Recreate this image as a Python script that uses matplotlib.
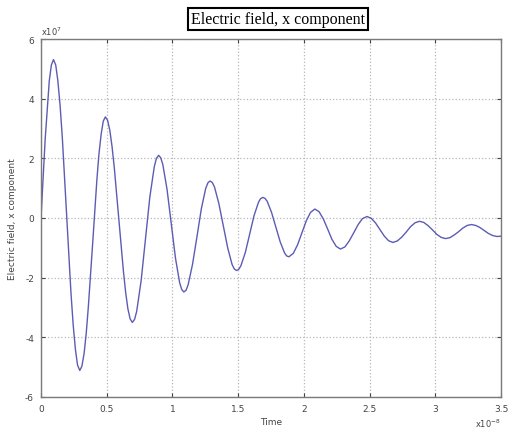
import matplotlib.pyplot as plt

# time in units of 1e-8 s, field in units of 1e7
time = [
    0.000, 0.032, 0.063, 0.079, 0.095,
    0.112, 0.128, 0.145, 0.162, 0.195, 0.228, 0.245, 0.262, 0.278, 0.295,
    0.311, 0.328, 0.344, 0.360, 0.393, 0.425, 0.441, 0.458, 0.474, 0.490,
    0.507, 0.524, 0.541, 0.558, 0.593, 0.627, 0.644, 0.661, 0.678, 0.695,
    0.712, 0.728, 0.762, 0.795, 0.828, 0.862, 0.878, 0.895,
    0.911, 0.927, 0.959, 0.991, 1.023, 1.055, 1.071, 1.087,
    1.104, 1.120, 1.153, 1.187, 1.220, 1.253, 1.270, 1.286,
    1.303, 1.320, 1.353, 1.387, 1.421, 1.454, 1.471, 1.488,
    1.505, 1.521, 1.555, 1.588, 1.621, 1.655, 1.671, 1.688,
    1.704, 1.721, 1.754, 1.787, 1.820, 1.853, 1.869, 1.886,
    1.919, 1.952, 1.985, 2.018, 2.051, 2.084,
    2.116, 2.149, 2.181, 2.213, 2.246, 2.278,
    2.312, 2.345, 2.379, 2.413, 2.446, 2.480,
    2.513, 2.546, 2.579, 2.611, 2.644, 2.677,
    2.711, 2.745, 2.779, 2.812, 2.846, 2.880,
    2.913, 2.946, 2.979, 3.012, 3.045, 3.078,
    3.111, 3.144, 3.177, 3.209, 3.242, 3.275,
    3.308, 3.340, 3.373, 3.405, 3.438, 3.470, 3.500,
]
efield_x = [
    0.00, 2.66, 4.60, 5.13, 5.31,
    5.13, 4.61, 3.79, 2.71, 0.10, -2.51, -3.59, -4.41, -4.93, -5.11,
    -4.97, -4.54, -3.87, -2.99, -0.86, 1.27, 2.15, 2.82, 3.25, 3.39,
    3.27, 2.93, 2.38, 1.67, -0.06, -1.78, -2.49, -3.04, -3.38, -3.50,
    -3.40, -3.13, -2.10, -0.70, 0.70, 1.72, 2.00, 2.10,
    2.02, 1.79, 0.96, -0.19, -1.34, -2.17, -2.40, -2.48,
    -2.42, -2.23, -1.55, -0.62, 0.31, 0.99, 1.18, 1.24,
    1.19, 1.04, 0.49, -0.26, -1.01, -1.56, -1.71, -1.76,
    -1.72, -1.60, -1.15, -0.54, 0.08, 0.53, 0.65, 0.69,
    0.66, 0.56, 0.19, -0.31, -0.80, -1.17, -1.27, -1.30,
    -1.19, -0.90, -0.50, -0.10, 0.19, 0.30,
    0.21, -0.04, -0.37, -0.71, -0.95, -1.04,
    -0.97, -0.77, -0.50, -0.22, -0.02, 0.05,
    -0.01, -0.17, -0.39, -0.60, -0.76, -0.82,
    -0.77, -0.64, -0.47, -0.29, -0.16, -0.11,
    -0.15, -0.26, -0.40, -0.55, -0.65, -0.69,
    -0.66, -0.57, -0.46, -0.34, -0.25, -0.22,
    -0.25, -0.32, -0.42, -0.52, -0.59, -0.62, -0.61,
]

x_ticks = [0, 0.5, 1, 1.5, 2, 2.5, 3, 3.5]
x_labels = ['0', '0.5', '1', '1.5', '2', '2.5', '3', '3.5']
y_ticks = [-6, -4, -2, 0, 2, 4, 6]
y_labels = ['-6', '-4', '-2', '0', '2', '4', '6']

fig = plt.figure(figsize=(5.08, 4.31), dpi=100)
ax = fig.add_axes([41 / 508, 33 / 431, 460 / 508, 358 / 431])

ax.plot(time, efield_x, color='#5c5cb4', linewidth=1.0,
        solid_joinstyle='round')

ax.set_xlim(0, 3.5)
ax.set_ylim(-6, 6)
ax.set_xticks(x_ticks)
ax.set_xticklabels(x_labels)
ax.set_yticks(y_ticks)
ax.set_yticklabels(y_labels)
ax.tick_params(direction='in', length=3, labelsize=6.5, colors='#444444',
               top=True, right=True, pad=5)
ax.grid(True, linestyle=':', color='#b8b8b8', linewidth=0.9)
for sp in ax.spines.values():
    sp.set_color('#7a7a7a')
    sp.set_linewidth(1.0)

ax.set_xlabel('Time', fontsize=6.5, color='#444444', labelpad=3)
ax.set_ylabel('Electric field, x component', fontsize=6.5, color='#444444',
              labelpad=6)

# MATLAB style exponent labels
ax.text(0.0, 1.005, r'x10$^{7}$', transform=ax.transAxes, fontsize=6,
        color='#444444', ha='left', va='bottom')
ax.text(1.0, -0.083, r'x10$^{-8}$', transform=ax.transAxes, fontsize=6,
        color='#444444', ha='right', va='baseline')

fig.text(278 / 508, 1 - 20 / 431, 'Electric field, x component',
         family='Liberation Serif', fontsize=11.5, ha='center', va='center',
         bbox=dict(boxstyle='square,pad=0.2', facecolor='white',
                   edgecolor='black', linewidth=1.5))

fig.savefig('out.png', dpi=100)
